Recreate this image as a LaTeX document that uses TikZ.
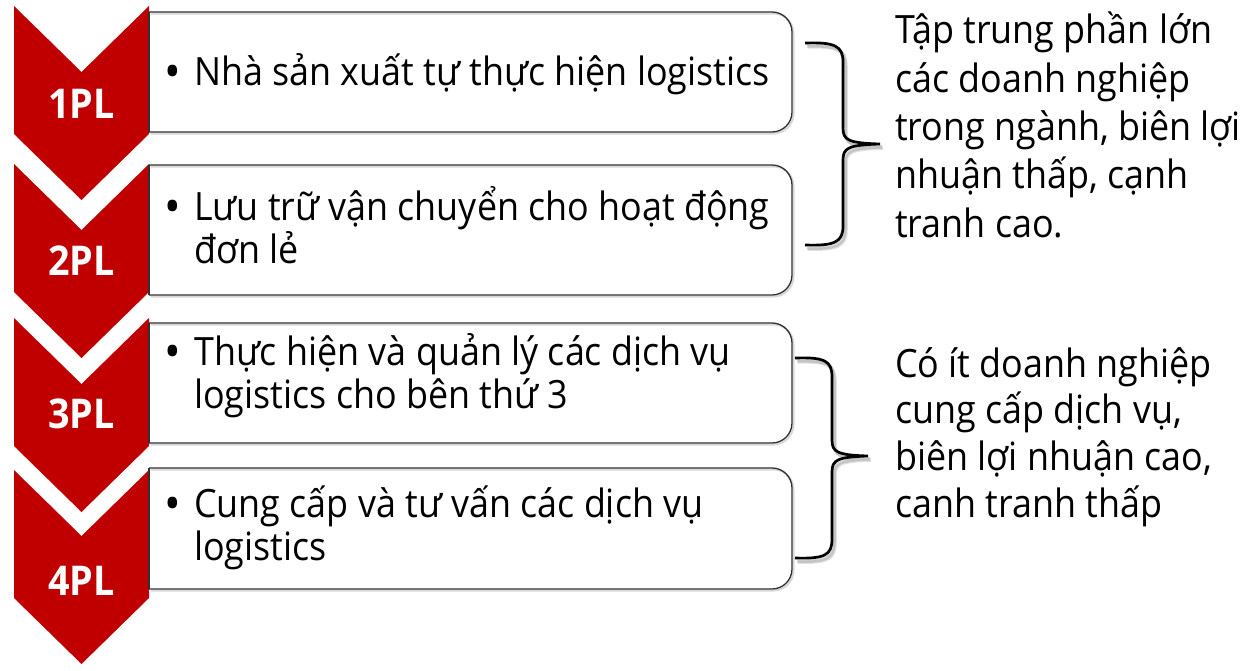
\documentclass[tikz,border=0pt]{standalone}
\usepackage{fontspec}
\setmainfont{Open Sans}[FakeStretch=0.92]
\definecolor{chevred}{HTML}{C00000}
\definecolor{boxedge}{HTML}{303030}
\begin{document}
\begin{tikzpicture}[x=1pt,y=-1pt,
  chev/.style={fill=chevred, draw=none},
  boxline/.style={draw=boxedge, line width=1.3pt},
  boxshade/.style={draw=black!30, line width=2pt, opacity=.5},
  txt/.style={anchor=base west, inner sep=0pt, font=\fontsize{39}{45}\selectfont},
  bul/.style={anchor=base, inner sep=0pt, font=\fontsize{48}{50}\selectfont},
  lbl/.style={anchor=base, inner sep=0pt, text=white, font=\bfseries\fontsize{41}{46}\selectfont},
  bracestroke/.style={draw=black, line width=2.7pt},
  braceshade/.style={draw=black!45, line width=3.5pt, opacity=.35}]
\useasboundingbox (0,0) rectangle (1256,670);

% red chevrons, one per level
\foreach \t in {6,164,318,470}{
  \fill[chev] (14,\t) -- (81.5,\t+66) -- (149,\t) -- (149,\t+128)
     -- (81.5,\t+194) -- (14,\t+128) -- cycle;
}

% content boxes: square on the left, rounded on the right
\foreach \t/\b in {12/132,165/295,323/443,468/589}{
  \draw[boxshade, rounded corners=20pt] (150.5,\t+1.5) -- (793.5,\t+1.5) -- (793.5,\b+1.5) -- (150.5,\b+1.5);
  \draw[boxline, rounded corners=20pt] (149,\t) -- (792,\t) -- (792,\b) -- (149,\b);
  \draw[boxline] (149,\b) -- (149,\t);
}

% level labels
\node[lbl] (pl1) at (81.5,118) {1PL};
\node[lbl] (pl2) at (81.5,275) {2PL};
\node[lbl] (pl3) at (81.5,428) {3PL};
\node[lbl] (pl4) at (81.5,595) {4PL};

% box texts
\node[bul] (b1) at (173,88) {•};
\node[txt] (t1) at (194,85) {Nhà sản xuất tự thực hiện logistics};
\node[bul] (b2) at (173,223) {•};
\node[txt] (t2a) at (194,220) {Lưu trữ vận chuyển cho hoạt động};
\node[txt] (t2b) at (194,263) {đơn lẻ};
\node[bul] (b3) at (173,368) {•};
\node[txt] (t3a) at (194,365) {Thực hiện và quản lý các dịch vụ};
\node[txt] (t3b) at (194,408) {logistics cho bên thứ 3};
\node[bul] (b4) at (173,520) {•};
\node[txt] (t4a) at (194,517) {Cung cấp và tư vấn các dịch vụ};
\node[txt] (t4b) at (194,560) {logistics};

% braces with soft shadow
\foreach \dx/\dy/\op in {3/4/.25,2/3/.35}{
  \draw[braceshade, opacity=\op] (805+\dx,43+\dy) .. controls (835+\dx,42+\dy) and (843+\dx,46+\dy) .. (843+\dx,62+\dy)
    -- (843+\dx,128+\dy) .. controls (843+\dx,140+\dy) and (848+\dx,143+\dy) .. (880+\dx,144+\dy)
    .. controls (848+\dx,145+\dy) and (843+\dx,148+\dy) .. (843+\dx,160+\dy)
    -- (843+\dx,226+\dy) .. controls (843+\dx,242+\dy) and (835+\dx,246+\dy) .. (805+\dx,245+\dy);
  \draw[braceshade, opacity=\op] (795+\dx,358+\dy) .. controls (825+\dx,357+\dy) and (832+\dx,361+\dy) .. (832+\dx,377+\dy)
    -- (832+\dx,440+\dy) .. controls (832+\dx,452+\dy) and (837+\dx,455+\dy) .. (868+\dx,456+\dy)
    .. controls (837+\dx,457+\dy) and (832+\dx,460+\dy) .. (832+\dx,472+\dy)
    -- (832+\dx,539+\dy) .. controls (832+\dx,555+\dy) and (825+\dx,559+\dy) .. (795+\dx,558+\dy);
}
\coordinate (br1) at (880,144);
\coordinate (br2) at (868,456);
\draw[bracestroke] (805,43) .. controls (835,42) and (843,46) .. (843,62)
  -- (843,128) .. controls (843,140) and (848,143) .. (br1)
  .. controls (848,145) and (843,148) .. (843,160)
  -- (843,226) .. controls (843,242) and (835,246) .. (805,245);
\draw[bracestroke] (795,358) .. controls (825,357) and (832,361) .. (832,377)
  -- (832,440) .. controls (832,452) and (837,455) .. (br2)
  .. controls (837,457) and (832,460) .. (832,472)
  -- (832,539) .. controls (832,555) and (825,559) .. (795,558);

% summaries
\node[txt] (s1a) at (895,43) {Tập trung phần lớn};
\node[txt] (s1b) at (895,92) {các doanh nghiệp};
\node[txt] (s1c) at (895,140) {trong ngành, biên lợi};
\node[txt] (s1d) at (895,188) {nhuận thấp, cạnh};
\node[txt] (s1e) at (895,237) {tranh cao.};
\node[txt] (s2a) at (895,377) {Có ít doanh nghiệp};
\node[txt] (s2b) at (895,423) {cung cấp dịch vụ,};
\node[txt] (s2c) at (895,470) {biên lợi nhuận cao,};
\node[txt] (s2d) at (895,517) {canh tranh thấp};
\end{tikzpicture}
\end{document}
